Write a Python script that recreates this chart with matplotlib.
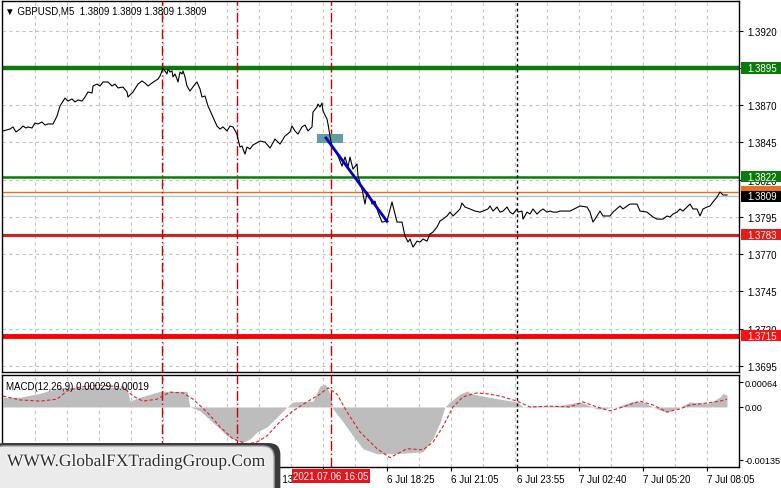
import matplotlib
matplotlib.use("Agg")
import matplotlib.pyplot as plt
from matplotlib.patches import Rectangle, FancyBboxPatch
import matplotlib.patheffects as pe

plt.rcParams['font.family'] = ['Liberation Sans', 'DejaVu Sans']

# price line vertices: (bar index, close)
price_points = [
    (0, 1.38527), (3.5, 1.38540), (5, 1.38554), (6.5, 1.38520), (8.5, 1.38540),
    (10, 1.38560), (11.5, 1.38547), (12.5, 1.38554), (14.5, 1.38547), (16, 1.38580),
    (17.5, 1.38574), (19.5, 1.38587), (21, 1.38567), (22.5, 1.38574), (25, 1.38574),
    (27, 1.38627), (28.5, 1.38695), (31, 1.38748), (32.5, 1.38728), (34.5, 1.38742),
    (36, 1.38722), (37.5, 1.38735), (39.5, 1.38728), (41, 1.38755), (42.5, 1.38789),
    (44.5, 1.38782), (45, 1.38829), (47, 1.38842), (48.5, 1.38829), (50, 1.38856),
    (52.5, 1.38856), (54.5, 1.38829), (56, 1.38842), (57.5, 1.38816), (60, 1.38822),
    (62, 1.38789), (62.5, 1.38755), (63.5, 1.38769),
    (65, 1.38789), (67.5, 1.38842), (69.5, 1.38863), (71, 1.38849), (72.5, 1.38829),
    (74.5, 1.38849), (76, 1.38863), (77.5, 1.38876), (78.5, 1.38896), (79.5, 1.38930),
    (80, 1.38950), (81, 1.38930), (82, 1.38910), (82.5, 1.38943), (83.5, 1.38923),
    (84.5, 1.38930), (85, 1.38890), (86, 1.38910), (87, 1.38876), (87.5, 1.38856),
    (88.5, 1.38923), (89.5, 1.38910), (90, 1.38930), (91, 1.38890), (92, 1.38829),
    (93.5, 1.38795), (96, 1.38842), (97, 1.38856), (98.5, 1.38809), (99.5, 1.38755),
    (101, 1.38762), (102.5, 1.38695), (105, 1.38621), (107, 1.38560), (108.5, 1.38540),
    (110, 1.38554), (112, 1.38527), (113.5, 1.38560), (115, 1.38554), (117, 1.38506),
    (117.5, 1.38473), (118.5, 1.38419), (119.5, 1.38426), (120, 1.38406), (121, 1.38372),
    (122, 1.38419), (123.5, 1.38406), (125, 1.38433),
    (128.5, 1.38459), (131, 1.38453), (133.5, 1.38412), (136, 1.38473), (138.5, 1.38439),
    (141, 1.38493), (143.5, 1.38520), (144.5, 1.38560), (146, 1.38527), (147.5, 1.38506),
    (149.5, 1.38554), (151, 1.38567), (152.5, 1.38527), (154.5, 1.38554), (155, 1.38654),
    (157, 1.38688), (157.5, 1.38708), (158.5, 1.38688), (159.5, 1.38715), (160, 1.38661),
    (162, 1.38607), (162.5, 1.38574), (163.5, 1.38493),
    (164.5, 1.38419), (166, 1.38392), (167.5, 1.38359), (169.5, 1.38291), (171, 1.38352),
    (172.5, 1.38285), (173.5, 1.38352), (175, 1.38271), (177, 1.38305), (177.5, 1.38224),
    (179.5, 1.38137), (181, 1.38036), (182, 1.38117), (183.5, 1.38083), (184.5, 1.38036),
    (186, 1.38056), (187.5, 1.37982), (189.5, 1.37915), (192, 1.37922), (194.5, 1.38050),
    (197, 1.37915), (199.5, 1.37915), (201, 1.37821), (202.5, 1.37781),
    (203.5, 1.37801), (205, 1.37747), (207, 1.37787), (208.5, 1.37781), (210, 1.37801),
    (212, 1.37787), (213.5, 1.37835), (215, 1.37848), (217, 1.37882), (218.5, 1.37922),
    (220, 1.37935), (222, 1.37956), (223.5, 1.37982), (225, 1.37956), (227, 1.37982),
    (228.5, 1.38003), (229.5, 1.38043), (231, 1.38016), (233.5, 1.38003), (236, 1.37989),
    (238.5, 1.37982), (240, 1.37989), (242.5, 1.38003), (243.5, 1.38023), (245, 1.37989),
    (247, 1.38016), (248.5, 1.37982), (250, 1.37989), (252, 1.38016), (253.5, 1.37982),
    (255, 1.37969), (257, 1.38003), (257.5, 1.37982), (259.5, 1.37989), (260, 1.37935),
    (262, 1.37982), (263.5, 1.37969), (265, 1.38003), (267, 1.37969), (268.5, 1.37989),
    (270, 1.38003), (272, 1.37982), (273.5, 1.37989), (275, 1.37982), (277, 1.37982),
    (278.5, 1.37989), (283.5, 1.37989),
    (288.5, 1.38023), (292, 1.38016), (293.5, 1.37982), (295, 1.37915), (297, 1.37956),
    (298.5, 1.37989), (300, 1.37956), (303.5, 1.37956), (305, 1.37982), (308.5, 1.38023),
    (310, 1.38003), (312, 1.38023), (313.5, 1.38036), (317, 1.38036), (318.5, 1.37989),
    (322, 1.37982), (325, 1.37949), (327, 1.37935), (328.5, 1.37935), (330, 1.37935),
    (332, 1.37956), (333.5, 1.37949), (335, 1.37969), (337, 1.37982), (338.5, 1.38003),
    (340, 1.37989), (342, 1.38016), (343.5, 1.38036), (345, 1.38003), (347, 1.38003),
    (348.5, 1.37956), (350, 1.38003), (352, 1.38016), (353.5, 1.38023), (355, 1.38050),
    (357, 1.38083), (358.5, 1.38117), (360, 1.38097), (362, 1.38097),
]

# MACD main (grey histogram) and signal (red dashed)
macd_points = [
    (0, 0.00025), (8.5, 0.00025), (18.5, 0.00035), (28.5, 0.0005), (62, 0.0005),
    (63.5, 0.00015), (68.5, 0.00025), (78.5, 0.0004), (92, 0.0004), (93.5, 0.0),
    (98.5, -0.0001), (107, -0.00049), (112, -0.00074), (117, -0.00087), (120, -0.0009),
    (123.5, -0.00082), (127, -0.00064), (132, -0.00051), (137, -0.00026), (142, 0.0),
    (145, 0.00013), (155, 0.00015), (158.5, 0.00054), (161, 0.00059), (163.5, 0.00033),
    (165, -0.00005), (170, -0.00038), (175, -0.00074), (180, -0.00107), (187, -0.0012),
    (193.5, -0.0012), (202, -0.00118), (210, -0.00115), (215, -0.0008), (218.5, -0.0004),
    (221, 0.0), (223.5, 0.00013), (228.5, 0.00033), (232, 0.00041), (235, 0.00033),
    (240, 0.00028), (248.5, 0.0002), (257, 0.00013), (260, 0.0), (265, 0.00003),
    (277, 0.00003), (288.5, 0.00013), (293.5, 0.00003), (297, -0.00005), (300, -0.00005),
    (308.5, 0.00003), (315, 0.00015), (320, 0.00013), (325, 0.0), (328.5, -0.00008),
    (332, -0.00013), (335, -0.00008), (338.5, 0.0), (343.5, 0.00013), (348.5, 0.0001),
    (353.5, 0.0001), (358.5, 0.00026), (360, 0.00035), (362, 0.0003),
]
signal_points = [
    (0, 0.00028), (8.5, 0.00018), (18.5, 0.00015), (27, 0.0002), (32, 0.00041),
    (38.5, 0.00051), (48.5, 0.00056), (60, 0.00051), (65, 0.00028), (70, 0.00015),
    (77, 0.0002), (83.5, 0.00038), (90, 0.00036), (95, 0.0002), (102, -0.00013),
    (108.5, -0.00051), (115, -0.00082), (122, -0.00095), (127, -0.0009), (132, -0.00074),
    (138.5, -0.00038), (145, -0.0001), (152, 0.00013), (158.5, 0.00033), (162.5, 0.00049),
    (167, 0.00033), (172, -0.00013), (178.5, -0.00064), (187, -0.00107), (193.5, -0.0013),
    (202, -0.00107), (210, -0.0011), (215, -0.0009), (220, -0.0005), (225, 0.0),
    (230, 0.00026), (237, 0.00036), (243.5, 0.00033), (250, 0.00026), (257, 0.00015),
    (263.5, 0.0), (273.5, 0.00002), (283.5, 0.0), (290, 0.00013), (297, 0.0),
    (303.5, -0.0001), (310, 0.0), (318.5, 0.00015), (325, 0.00005), (332, -0.00013),
    (338.5, -0.00005), (343.5, 0.00005), (352, 0.0001), (358.5, 0.00015), (362, 0.0002),
]

# horizontal levels
level_top_green = 1.3895
level_green = 1.3822
level_orange = 1.3812
level_bid = 1.3809
level_red = 1.3783
level_bottom_red = 1.3715

# vertical markers (bar index)
marker_bars = [79.5, 117, 164]
separator_bar = 257

# blue trend segment and the teal entry box
trend_bars = [161.5, 192]
trend_prices = [1.3848, 1.3792]
box_bars = [157, 170]
box_prices = [1.38446, 1.38506]

price_ticks = [1.3920, 1.3895, 1.3870, 1.3845, 1.3820, 1.3795, 1.3770, 1.3745, 1.3720, 1.3695]
macd_ticks = [0.00064, 0.0, -0.00135]
macd_tick_labels = ['0.00064', '0.00', '-0.00135']

# labels under the watermark / time box are not visible in the chart
time_tick_bars = [0, 32, 64, 96, 128, 160, 192, 224, 257, 288, 320, 352]
time_tick_labels = ['', '', '', '', '6 Jul 13:05', '', '6 Jul 18:25', '6 Jul 21:05',
                    '6 Jul 23:55', '7 Jul 02:40', '7 Jul 05:20', '7 Jul 08:05']

# right-hand price boxes: price, text, box colour
level_labels = [
    (1.3895, '1.3895', '#0a7a0a'),
    (1.3822, '1.3822', '#0a7a0a'),
    (1.3812, '', '#e8701e'),
    (1.3809, '1.3809', '#000000'),
    (1.3783, '1.3783', '#e31b1b'),
    (1.3715, '1.3715', '#ff1010'),
]

W, H = 781, 489
fig = plt.figure(figsize=(W / 100, H / 100), dpi=100)
ax = fig.add_axes([2 / W, 1 - 373 / H, 737 / W, 371 / H])
axm = fig.add_axes([2 / W, 1 - 468 / H, 737 / W, 92 / H])

grid_kw = dict(color='#c4c4c4', lw=0.8, linestyle=(0, (3, 3)), zorder=0)
red_kw = dict(color='#cc0000', lw=1, linestyle=(0, (7, 2, 1, 2)), zorder=3)
sep_kw = dict(color='black', lw=1, linestyle=(0, (2, 2)), zorder=3)

for a in (ax, axm):
    a.set_xlim(-0.5, 368)
    for b in range(16, 368, 16):
        a.axvline(b, **grid_kw)
    for b in marker_bars:
        a.axvline(b, **red_kw)
    a.axvline(separator_bar, **sep_kw)
    for s in a.spines.values():
        s.set_color('black')
        s.set_linewidth(1)
    a.yaxis.tick_right()
    a.tick_params(axis='y', length=3, pad=3, labelsize=7, colors='black')

# main price panel
ax.set_ylim(1.36908, 1.39400)
for p in price_ticks:
    ax.axhline(p, **grid_kw)
ax.set_yticks(price_ticks)
ax.set_yticklabels([f'{p:.4f}' for p in price_ticks])
ax.set_xticks([])

ax.axhline(level_top_green, color='#0a7a0a', lw=3.2, zorder=2)
ax.axhline(level_green, color='#0a7a0a', lw=1.8, zorder=2)
ax.axhline(level_orange, color='#e07020', lw=1, zorder=2)
ax.axhline(level_bid, color='#c0c0c0', lw=1, zorder=2)
ax.axhline(level_red, color='#d42020', lw=2.2, zorder=2)
ax.axhline(level_bottom_red, color='#ff0000', lw=3.5, zorder=2)

ax.add_patch(Rectangle((box_bars[0], box_prices[0]), box_bars[1] - box_bars[0],
                       box_prices[1] - box_prices[0], facecolor='#5f9ea5',
                       edgecolor='none', zorder=4))
bars = [b for b, _ in price_points]
closes = [c for _, c in price_points]
ax.plot(bars, closes, color='black', lw=0.8, zorder=5)
ax.plot(trend_bars, trend_prices, color='#0000c8', lw=2, zorder=6)

ytr = ax.get_yaxis_transform()
for price, text, fc in level_labels:
    ax.add_patch(Rectangle((1.0027, price - 0.00037), 0.06, 0.00074, transform=ytr,
                           facecolor=fc, edgecolor='none', clip_on=False, zorder=8))
    if text:
        ax.text(1.011, price, text, transform=ytr, color='white', fontsize=7,
                va='center', ha='left', zorder=9, clip_on=False)

ax.text(0.004, 0.975, '\u25bc GBPUSD,M5  1.3809 1.3809 1.3809 1.3809', transform=ax.transAxes,
        fontsize=7, va='center', ha='left', zorder=10)

# MACD panel
axm.set_ylim(-0.00154, 0.00082)
mb = [b for b, _ in macd_points]
mv = [v for _, v in macd_points]
axm.fill_between(mb, 0, mv, color='#bdbdbd', lw=0, zorder=2)
sb = [b for b, _ in signal_points]
sv = [v for _, v in signal_points]
axm.plot(sb, sv, color='#e02020', lw=0.8, linestyle=(0, (3, 2)), zorder=4)
axm.set_yticks(macd_ticks)
axm.set_yticklabels(macd_tick_labels)
axm.tick_params(axis='y', pad=1, labelsize=6.6)
axm.set_xticks(time_tick_bars)
axm.set_xticklabels(time_tick_labels, ha='left')
axm.tick_params(axis='x', length=3, pad=2, labelsize=7)
axm.text(0.006, 0.88, 'MACD(12,26,9) 0.00029 0.00019', transform=axm.transAxes,
         fontsize=7, va='center', ha='left', zorder=10)

# crosshair time label
fig.text(331 / W, 1 - 477 / H, '2021.07.06 16:05', color='white', fontsize=7,
         ha='center', va='center',
         bbox=dict(facecolor='#e8141c', edgecolor='none', pad=1.2))

# watermark
shadow = FancyBboxPatch((-0.01, -0.06), 0.369, 0.152, transform=fig.transFigure,
                        boxstyle='round,pad=0,rounding_size=0.015', mutation_aspect=1.6,
                        facecolor='#3a3a3a', edgecolor='none')
fig.add_artist(shadow)
panel = FancyBboxPatch((-0.01, -0.06), 0.361, 0.146, transform=fig.transFigure,
                       boxstyle='round,pad=0,rounding_size=0.015', mutation_aspect=1.6,
                       facecolor='#ebebeb', edgecolor='#9a9a9a', lw=1)
fig.add_artist(panel)
fig.text(136 / W, 1 - 463 / H, 'WWW.GlobalFXTradingGroup.Com', family='Liberation Serif',
         fontsize=12.5, color='#2e2e2e', ha='center', va='center',
         path_effects=[pe.withStroke(linewidth=1.5, foreground='#fafafa')])

fig.savefig('out.png', dpi=100)
